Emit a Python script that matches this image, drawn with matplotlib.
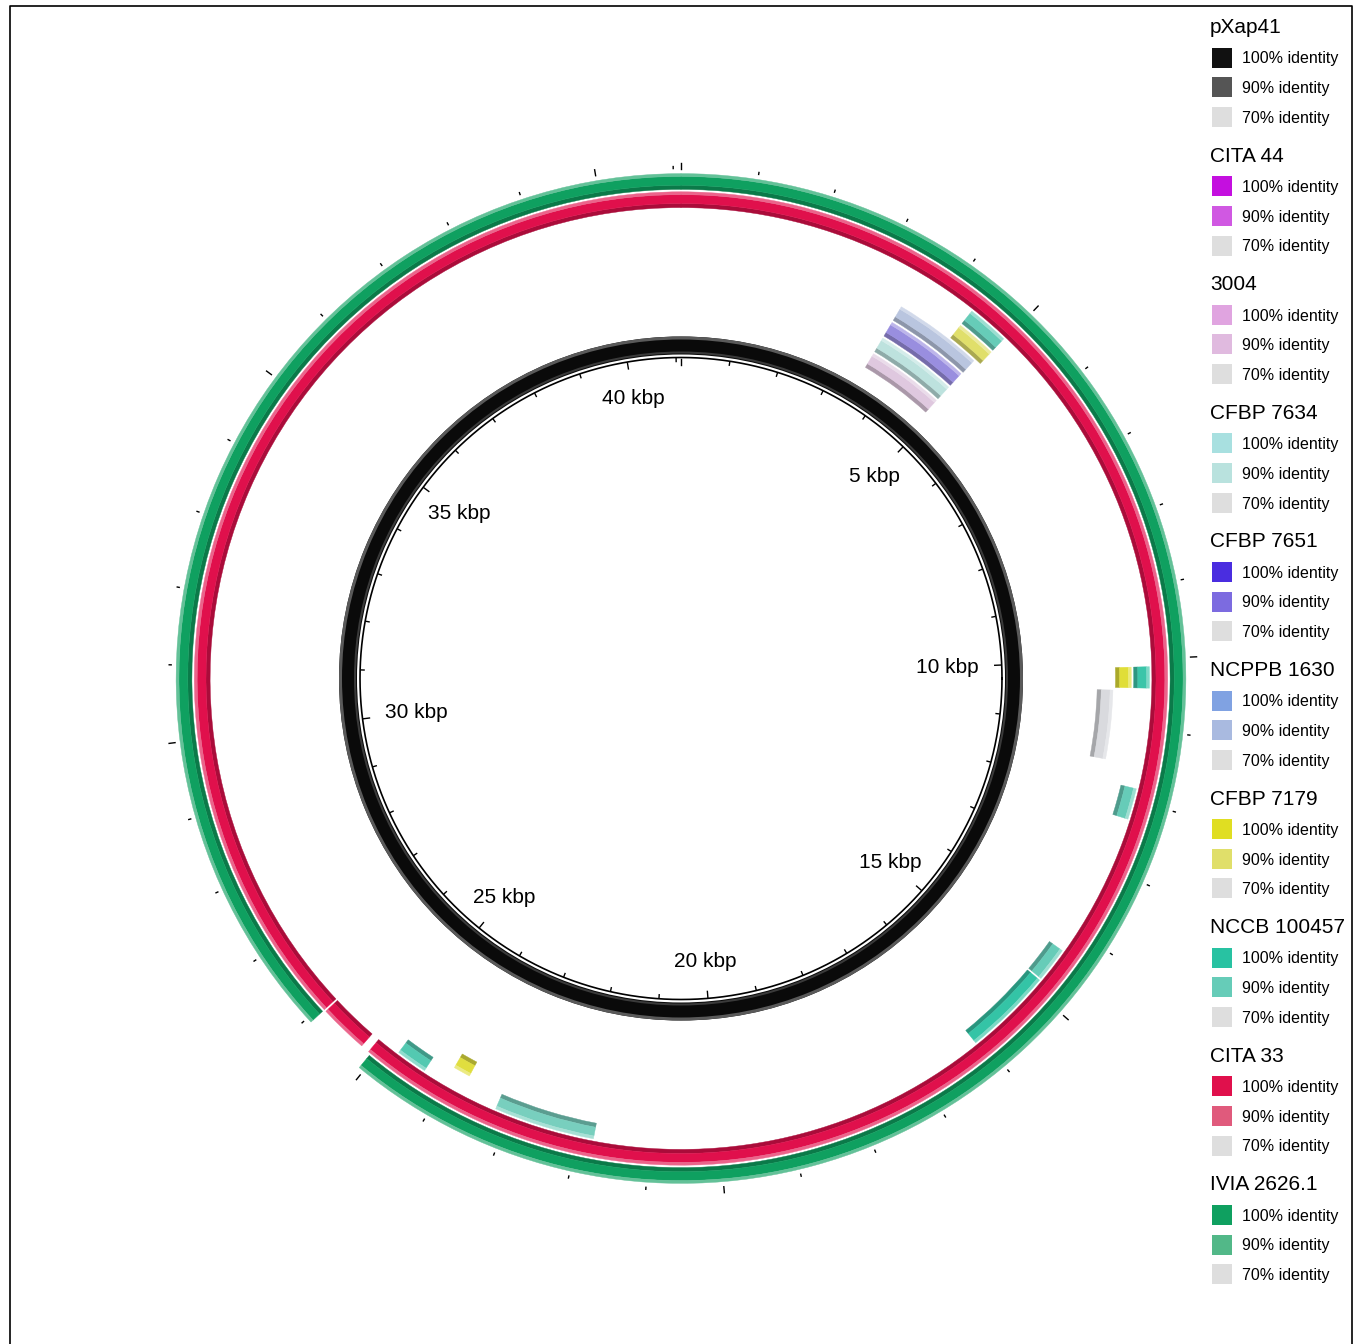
import numpy as np
import matplotlib
matplotlib.use("Agg")
import matplotlib.pyplot as plt
from matplotlib.patches import Wedge, Rectangle
from matplotlib.colors import to_rgb

plt.rcParams['font.family'] = ['Liberation Sans', 'DejaVu Sans']

# ---------------- data ----------------
genome_kbp = 41.1
label_kbp = [5, 10, 15, 20, 25, 30, 35, 40]

ring_names = ["pXap41", "CITA 44", "3004", "CFBP 7634", "CFBP 7651",
              "NCPPB 1630", "CFBP 7179", "NCCB 100457", "CITA 33", "IVIA 2626.1"]
color_100 = ["#111111", "#C40FDF", "#E0A4E0", "#A8E0E0", "#4A2DE0",
             "#80A2E2", "#E0DE22", "#28C2A2", "#E0104C", "#0FA060"]
color_90 = ["#555555", "#D058E2", "#E0BADF", "#B9E2DE", "#7C6BE0",
            "#A9BAE0", "#E0DF6A", "#66CCB8", "#E05A7C", "#52B888"]
color_70 = ["#DEDEDE"] * 10

# segments per ring: (start kbp, end kbp, identity %)
seg_3004 = [(3.50, 4.86, 82)]
seg_cfbp7634 = [(3.50, 4.86, 88)]
seg_cfbp7651 = [(3.50, 4.86, 84)]
seg_ncppb1630 = [(3.50, 4.87, 84), (10.45, 11.50, 72)]
seg_cfbp7179 = [(4.38, 4.97, 90), (10.11, 10.41, 97), (23.75, 24.00, 96)]
seg_nccb = [(4.38, 4.97, 90), (10.11, 10.41, 97), (11.83, 12.27, 90),
            (14.33, 14.82, 90), (14.85, 16.10, 98), (21.78, 23.21, 87),
            (24.34, 24.78, 93)]
seg_cita33 = [(0.0, 25.11, 100), (25.23, 25.90, 100), (25.93, 41.1, 100)]
seg_ivia = [(0.0, 25.07, 100), (25.93, 41.1, 100)]
ring_segments = [[(0.0, 41.1, 100)], [], seg_3004, seg_cfbp7634, seg_cfbp7651,
                 seg_ncppb1630, seg_cfbp7179, seg_nccb, seg_cita33, seg_ivia]

# ---------------- layout ----------------
W, H = 1361, 1344
cx, cy = 681, 678.5
fig = plt.figure(figsize=(W / 100, H / 100), dpi=100)
ax = fig.add_axes([0, 0, 1, 1])
ax.set_xlim(0, W)
ax.set_ylim(H, 0)
ax.axis('off')


def ang(kbp):
    return kbp / genome_kbp * 360.0


def identity_color(i, ident):
    c100 = np.array(to_rgb(color_100[i]))
    c90 = np.array(to_rgb(color_90[i]))
    c70 = np.array(to_rgb(color_70[i]))
    if ident >= 90:
        t = (ident - 90) / 10.0
        return c90 * (1 - t) + c100 * t
    t = (ident - 70) / 20.0
    return c70 * (1 - t) + c90 * t


def band(r0, r1, k0, k1, color, dark=0.76, light=0.35):
    a0, a1 = ang(k0) - 90, ang(k1) - 90
    w = r1 - r0
    base = np.array(color)
    parts = [(0.0, 0.26, base * dark), (0.26, 0.82, base),
             (0.82, 1.0, base + (1 - base) * light)]
    for f0, f1, c in parts:
        ax.add_patch(Wedge((cx, cy), r0 + f1 * w, a0, a1, width=(f1 - f0) * w,
                           facecolor=c, edgecolor=c, linewidth=0.3))


# backbone (pXap41)
ax.add_patch(Wedge((cx, cy), 342, 0, 360, width=18, facecolor="#0A0A0A", edgecolor='none'))
ax.add_patch(Wedge((cx, cy), 342, 0, 360, width=3, facecolor="#5A5A5A", edgecolor='none'))
ax.add_patch(Wedge((cx, cy), 327, 0, 360, width=2, facecolor="#3A3A3A", edgecolor='none'))
# tick circle
th = np.linspace(0, 2 * np.pi, 721)
ax.plot(cx + 321 * np.cos(th), cy + 321 * np.sin(th), color='black', lw=1.2)

# comparison rings
pitch, width, r_first = 18.2, 15.8, 343.5
for i in range(1, len(ring_names)):
    r0 = r_first + pitch * (i - 1)
    for (s, e, ident) in ring_segments[i]:
        band(r0, r0 + width, s, e, identity_color(i, ident))

# ticks
for k in range(0, int(genome_kbp) + 1):
    phi = np.deg2rad(ang(k))
    sx, sy = np.sin(phi), -np.cos(phi)
    major = (k % 5 == 0)
    ln = 6 if major else 3
    ax.plot([cx + 320 * sx, cx + (320 - ln) * sx], [cy + 320 * sy, cy + (320 - ln) * sy],
            color='black', lw=1.0)
    lo = 6 if major else 2
    ax.plot([cx + 510 * sx, cx + (510 + lo) * sx], [cy + 510 * sy, cy + (510 + lo) * sy],
            color='black', lw=1.0)

for k in label_kbp:
    phi = np.deg2rad(ang(k))
    r = 284 - 18 * np.sin(phi) ** 4
    ax.text(cx + r * np.sin(phi), cy - r * np.cos(phi), f"{k} kbp", fontsize=15,
            ha='center', va='center', color='black')

# legend
levels = ["100% identity", "90% identity", "70% identity"]
for g, name in enumerate(ring_names):
    yb = 33 + 128.6 * g
    ax.text(1210, yb, name, fontsize=15, ha='left', va='baseline', color='black')
    cols = [color_100[g], color_90[g], color_70[g]]
    for j, (lab, col) in enumerate(zip(levels, cols)):
        yc = 25.5 + 128.6 * g + 32 + 29.7 * j
        ax.add_patch(Rectangle((1212, yc - 10), 20, 20, facecolor=col, edgecolor='none'))
        ax.text(1242, yc + 5.8, lab, fontsize=11.5, ha='left', va='baseline', color='black')

# frame
ax.plot([10, 10, 1352, 1352], [1350, 6, 6, 1350], color='black', lw=1.2)

fig.savefig("out.png", dpi=100)
